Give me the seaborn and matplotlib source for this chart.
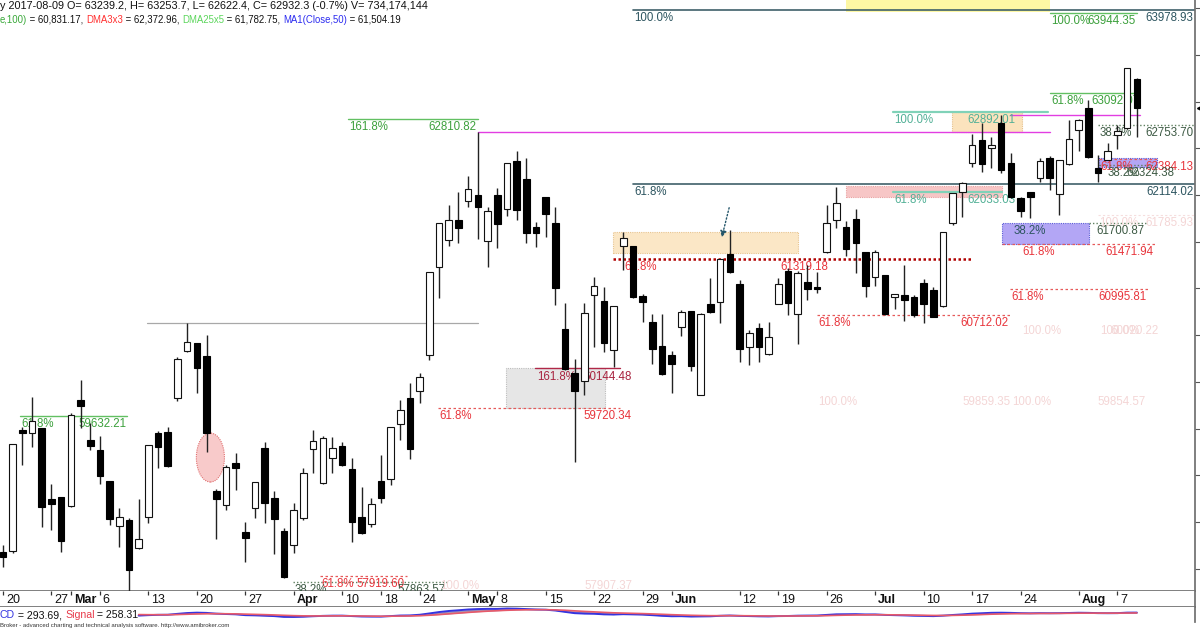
import matplotlib
matplotlib.use("Agg")
import matplotlib.pyplot as plt
from matplotlib.patches import Rectangle, Ellipse
import numpy as np
import pandas as pd
import seaborn as sns

sns.set_theme(style="white")
plt.rcParams["font.family"] = ["Liberation Sans", "DejaVu Sans"]

# daily OHLC, 20 Feb .. 9 Aug 2017
opens = [58180, 58191, 59485, 59453, 59507, 58747, 58769, 58672, 59806, 59378,
         59271, 58940, 58458, 58522, 58223, 58555, 59453, 59464, 59828, 60331,
         60416, 60277, 58833, 58683, 59132, 58394, 58651, 59293, 58758, 58405,
         58255, 58544, 59282, 58918, 59186, 59314, 59068, 58555, 58480, 58940,
         58961, 59550, 59828, 59903, 60288, 61230, 61518, 61732, 61936, 62000,
         61508, 62000, 61850, 62364, 62171, 61658, 61979, 61700, 60566, 60095,
         60010, 60930, 60866, 60341, 61454, 61454, 60919, 60641, 60384, 60288,
         60588, 60759, 59860, 60834, 60855, 61369, 61048, 60374, 60577, 60299,
         60834, 61187, 60727, 61069, 61016, 61390, 61732, 61658, 61743, 61390,
         61123, 61144, 60909, 60930, 60909, 61058, 60983, 60812, 61700, 62032,
         62342, 62589, 62503, 62770, 62342, 61968, 62032, 62182, 62396, 62011,
         62332, 62696, 62931, 62289, 62375, 62642, 62717, 63239.2]
highs = [58255, 59336, 59518, 59839, 59507, 58908, 58769, 59667, 60020, 59560,
         59421, 58940, 58651, 58544, 58747, 59325, 59475, 59518, 60267, 60630,
         60416, 60502, 58855, 59111, 59239, 58501, 58929, 59357, 58833, 58437,
         58704, 59079, 59485, 59421, 59411, 59357, 59186, 58876, 58758, 59218,
         59518, 59806, 59988, 60095, 61176, 61700, 61893, 62032, 62203, 62674,
         61872, 62075, 62342, 62471, 62396, 61711, 61979, 61872, 60844, 60245,
         60844, 61123, 61016, 60812, 61604, 61454, 60940, 60727, 60727, 60331,
         60769, 60759, 60737, 61112, 61315, 61625, 61090, 60555, 60630, 60641,
         61112, 61219, 61187, 61251, 61176, 61893, 62086, 61722, 61850, 61390,
         61412, 61144, 60941, 61251, 60930, 61101, 61016, 61604, 62021, 62139,
         62653, 62770, 62621, 62856, 62449, 61979, 62035, 62396, 62417, 62375,
         62803, 62813, 63017, 62428, 62556, 62749, 63359, 63253.7]
lows = [58020, 58169, 59111, 59304, 58448, 58415, 58180, 58660, 59507, 59271,
        58908, 58469, 58234, 57760, 58210, 58490, 59079, 59090, 59796, 60320,
        59881, 59250, 58319, 58629, 58843, 58073, 58544, 58490, 58159, 57905,
        58169, 58522, 59025, 58910, 59025, 59100, 58287, 58375, 58448, 58704,
        58897, 59378, 59175, 59774, 60234, 60898, 61454, 61486, 61872, 61529,
        61230, 61433, 61775, 61732, 61486, 61444, 61551, 60823, 60130, 59143,
        59860, 60374, 60320, 60160, 61197, 60900, 60641, 60192, 60074, 59881,
        60491, 60117, 59860, 60740, 60630, 61170, 60213, 60181, 60213, 60290,
        60830, 60716, 60406, 60876, 60951, 61380, 61647, 61347, 61165, 60909,
        61026, 60720, 60780, 60652, 60695, 60630, 60690, 60800, 61679, 61765,
        62300, 62246, 62289, 62235, 61970, 61765, 61754, 62139, 62054, 61786,
        62325, 62471, 62400, 62139, 62370, 62492, 62710, 62622.4]
closes = [58127, 59336, 59453, 59582, 58662, 58694, 58298, 59646, 59742, 59314,
          58993, 58533, 58555, 57987, 58319, 59325, 59304, 59100, 60245, 60427,
          60149, 59453, 58747, 59090, 59079, 58330, 58929, 58704, 58533, 57913,
          58629, 59025, 59368, 59400, 59293, 59111, 58501, 58383, 58694, 58758,
          59518, 59699, 59282, 60053, 61176, 61700, 61732, 61647, 62064, 61872,
          61829, 61690, 62342, 61839, 61593, 61593, 61797, 61005, 60138, 59903,
          60737, 61026, 60416, 60812, 61540, 60909, 60855, 60352, 60085, 60192,
          60748, 60170, 60727, 60748, 61315, 61176, 60352, 60523, 60374, 60481,
          61048, 60844, 61165, 60994, 60994, 61700, 61914, 61422, 61486, 61026,
          61390, 60727, 60941, 60877, 60716, 60834, 60695, 61604, 62021, 62128,
          62535, 62332, 62535, 62268, 61979, 61829, 61979, 62364, 62182, 62375,
          62599, 62803, 62407, 62235, 62471, 62685, 63359, 62932.3]

# date axis: bar number of each labelled day
tick_bars = [0, 5, 7, 10, 15, 20, 25, 30, 35, 39, 43, 48, 51, 56, 61, 66, 69,
             76, 80, 85, 90, 95, 100, 105, 111, 115]
tick_labels = ["20", "27", "Mar", "6", "13", "20", "27", "Apr", "10", "18", "24",
               "May", "8", "15", "22", "29", "Jun", "12", "19", "26", "Jul", "10",
               "17", "24", "Aug", "7"]
months = {"Mar", "Apr", "May", "Jun", "Jul", "Aug"}

# fibonacci / study levels: price, from bar, to bar, style, left text, left at, right text, right at
levels = [
    (63978.93, 65.0, 123.0, "slate", "100.0%", None, "63978.93", 123.0),
    (63944.35, 108.0, 117.0, "green", "100.0%", None, "63944.35", 117.0),
    (63092.07, 108.0, 117.0, "green", "61.8%", None, "63092.07", 117.4),
    (62892.01, 91.8, 107.8, "teal", "100.0%", None, "62892.01", 104.6),
    (62856.00, 103.9, 117.3, "magenta", None, None, None, None),
    (62810.82, 35.6, 49.0, "green", "161.8%", None, "62810.82", 49.0),
    (62753.70, 113.0, 123.0, "gdot", "38.2%", None, "62753.70", 123.0),
    (62674.00, 49.0, 108.0, "magenta", None, None, None, None),
    (62384.13, 113.1, 119.1, "rdash", "61.8%", None, "62384.13", 123.0),
    (62324.38, 113.1, 119.1, "gdot", "38.2%", 113.8, "62324.38", 121.0),
    (62114.02, 65.0, 123.0, "slate", "61.8%", None, "62114.02", 123.0),
    (62033.03, 91.8, 103.1, "teal", "61.8%", None, "62033.03", 104.6),
    (61785.93, 113.0, 123.0, "faint", "100.0%", None, "61785.93", 123.0),
    (61700.87, 112.1, 117.9, "gdot", None, None, "61700.87", 117.9),
    (61471.94, 103.1, 118.9, "rdash", "61.8%", 105.0, "61471.94", 118.9),
    (61319.18, 62.95, 100.0, "rdot", "61.8%", 64.0, "61319.18", 85.3),
    (60995.81, 103.9, 118.1, "rdash", "61.8%", None, "60995.81", 118.1),
    (60712.02, 84.0, 103.9, "rdash", "61.8%", None, "60712.02", 103.9),
    (60630.00, 14.86, 49.0, "gray", None, None, None, None),
    (60144.48, 54.9, 63.7, "crimson", "161.8%", 55.0, "60144.48", 65.0),
    (59720.34, 44.9, 63.7, "rdash", "61.8%", None, "59720.34", 65.0),
    (59632.21, 1.75, 12.8, "green", "61.8%", None, "59632.21", 12.9),
    (57919.60, 32.7, 41.7, "rdash", "61.8%", None, "57919.60", 41.6),
    (57863.57, 29.9, 45.8, "gdot", "38.2%", None, "57863.57", 45.8),
]
# almost invisible old labels: bar, price, text, align
faint_notes = [(105.2, 60630, "100.0%", "left"), (113.2, 60630, "100.0%", "left"),
               (119.2, 60630, "60020.22", "right"), (84.1, 59870, "100.0%", "left"),
               (104.0, 59870, "59859.35", "right"), (104.1, 59870, "100.0%", "left"),
               (117.9, 59870, "59854.57", "right"), (45.1, 57902, "100.0%", "left"),
               (65.0, 57902, "57907.37", "right")]
# zones: bar from, bar to, price low, price high, fill, edge
zones = [
    (87.0, 108.0, 63958, 64120, "#fdf7a4", "none"),
    (97.9, 105.2, 62674, 62888, "#fbe3bd", "#e6c08a"),
    (87.0, 103.1, 61979, 62096, "#f7c6c6", "#eaa0a0"),
    (62.95, 82.0, 61379, 61604, "#fbe7c6", "#e8c48e"),
    (103.1, 112.1, 61471.94, 61700.87, "#b3a6f5", "#5a5ad8"),
    (113.1, 119.1, 62300, 62396, "#b3a6f5", "#5a5ad8"),
    (51.9, 62.1, 59720.34, 60144.48, "#e6e6e6", "#bdbdbd"),
]

styles = {
    "slate": dict(color="#3f6069", ls="-", lw=1.2),
    "green": dict(color="#62c062", ls="-", lw=1.0),
    "teal": dict(color="#80d2b8", ls="-", lw=1.6),
    "magenta": dict(color="#e23ee2", ls="-", lw=1.0),
    "gdot": dict(color="#5f8060", ls=(0, (1, 1.5)), lw=1.0),
    "rdash": dict(color="#e65a5a", ls=(0, (2, 2)), lw=0.9),
    "rdot": dict(color="#b00000", ls=(0, (1, 1)), lw=1.8),
    "gray": dict(color="#a8a8a8", ls="-", lw=0.9),
    "crimson": dict(color="#b02848", ls="-", lw=1.0),
    "faint": dict(color="#f6dede", ls=(0, (2, 2)), lw=0.8),
}
text_colors = {"slate": "#2d5560", "green": "#3ca03c", "teal": "#52b096",
               "gdot": "#3d5a44", "rdash": "#e8353c", "rdot": "#e8353c",
               "crimson": "#a8233f", "faint": "#f4d6d6"}

W, H = 1200, 630
fig = plt.figure(figsize=(12, 6.3), dpi=100)


def px_axes(x0, y0, x1, y1):
    return fig.add_axes([x0 / W, 1 - y1 / H, (x1 - x0) / W, (y1 - y0) / H])


ax = px_axes(0, 0, 1195, 591)
ax_d = px_axes(0, 591, 1195, 607)
ax_m = px_axes(0, 607, 1195, 622)

for a in (ax, ax_d, ax_m):
    a.set_xlim(-0.31, 123.0)
    a.set_facecolor("white")
    for side in ("left", "top"):
        a.spines[side].set_visible(False)
    a.spines["right"].set_color("#707070")
    a.spines["bottom"].set_color("#707070")
    a.set_xticks([])

ax.set_ylim(57763, 64087)
ax.yaxis.tick_right()
ax.set_yticks(np.arange(58000, 64001, 500))
ax.tick_params(axis="y", direction="out", length=4, width=0.8, color="#555",
               labelright=False, labelleft=False)

# zones and the ellipse
for b0, b1, p0, p1, face, edge in zones:
    ax.add_patch(Rectangle((b0, p0), b1 - b0, p1 - p0, facecolor=face,
                           edgecolor=edge, ls=(0, (1, 1)), lw=0.8, zorder=1))
ax.add_patch(Ellipse((21.4, 59191), 2.9, 524, facecolor="#f8caca",
                     edgecolor="#e07070", ls=(0, (1, 1)), lw=0.8, zorder=1))

# levels and their labels
lab_fs = 8.3
for price, b0, b1, st, left, left_at, right, right_at in levels:
    ax.plot([b0, b1], [price, price], zorder=2, **styles[st])
    tc = text_colors.get(st, "#333")
    if left:
        ax.annotate(left, (left_at if left_at is not None else b0, price),
                    xytext=(1, -1.5), textcoords="offset points", ha="left",
                    va="top", fontsize=lab_fs, color=tc, zorder=3)
    if right:
        ax.annotate(right, (right_at, price), xytext=(-1, -1.5),
                    textcoords="offset points", ha="right", va="top",
                    fontsize=lab_fs, color=tc, zorder=3)
ax.annotate("38.2%", (104.1, 61700.87), xytext=(1, -1.5), textcoords="offset points",
            ha="left", va="top", fontsize=lab_fs, color=text_colors["slate"], zorder=3)
for b, p, s, ha in faint_notes:
    ax.annotate(s, (b, p), xytext=(0, -1.5), textcoords="offset points", ha=ha,
                va="top", fontsize=lab_fs, color=text_colors["faint"], zorder=3)

# dotted arrow
ax.annotate("", xy=(74.1, 61519), xytext=(75.0, 61893),
            arrowprops=dict(arrowstyle="-|>", color="#24566a", ls=(0, (1, 1.5)),
                            lw=1.0, mutation_scale=9), zorder=3)

# candles
x = np.arange(len(closes))
o = np.array(opens, dtype=float)
c = np.array(closes, dtype=float)
hi = np.array(highs, dtype=float)
lo = np.array(lows, dtype=float)
up = c >= o
body_lo = np.minimum(o, c)
body_h = np.maximum(np.abs(c - o), 12)
ax.vlines(x, lo, hi, color="#222", lw=1.0, zorder=5)
ax.bar(x[up], body_h[up], bottom=body_lo[up], width=0.68, color="white",
       edgecolor="#111", linewidth=0.8, zorder=6)
ax.bar(x[~up], body_h[~up], bottom=body_lo[~up], width=0.68, color="black",
       edgecolor="black", linewidth=0.8, zorder=6)

# last price marker on the axis
ax.plot([1.004], [closes[-1]], marker="<", ms=5, color="black",
        transform=ax.get_yaxis_transform(), clip_on=False, zorder=10)

# date band
ax_d.set_ylim(0, 1)
ax_d.set_yticks([])
ax_d.vlines(tick_bars, 0.72, 1.0, color="#333", lw=0.9)
for b, lab in zip(tick_bars, tick_labels):
    ax_d.text(b + 0.3, 0.45, lab, fontsize=9, ha="left", va="center",
              fontweight="bold" if lab in months else "normal", color="#111")

# MACD pane, from the closes
close_s = pd.Series(c)
macd = close_s.ewm(span=12, adjust=False).mean() - close_s.ewm(span=26, adjust=False).mean()
signal = macd.ewm(span=9, adjust=False).mean()
start = 14
ax_m.fill_between(x[start:], macd[start:], signal[start:], color="#4a2a6a", alpha=0.5, lw=0)
sns.lineplot(x=x[start:], y=macd[start:], ax=ax_m, color="#3434e0", lw=1.4)
sns.lineplot(x=x[start:], y=signal[start:], ax=ax_m, color="#e85a6a", lw=1.2)
lo_m, hi_m = min(macd[start:].min(), signal[start:].min()), max(macd[start:].max(), signal[start:].max())
pad = (hi_m - lo_m) * 0.6
ax_m.set_ylim(lo_m - pad, hi_m + pad * 0.3)
ax_m.set_yticks([])
ax_m.set_ylabel("")
ax_m.spines["bottom"].set_visible(False)


def colored_line(target, x_px, y_px, parts, size):
    prev = None
    for text, color in parts:
        if prev is None:
            prev = target.annotate(text, xy=(x_px, y_px), xycoords="figure pixels",
                                   ha="left", va="bottom", fontsize=size, color=color,
                                   annotation_clip=False, zorder=20)
        else:
            prev = target.annotate(text, xy=(1, 0), xycoords=prev, ha="left",
                                   va="bottom", fontsize=size, color=color,
                                   annotation_clip=False, zorder=20)


colored_line(ax, 0, 619, [("y 2017-08-09 O= 63239.2, H= 63253.7, L= 62622.4, "
                           "C= 62932.3 (-0.7%) V= 734,174,144", "#111")], 7.8)
colored_line(ax, 0, 605, [("e,100)", "#38a838"), (" = 60,831.17, ", "#111"),
                          ("DMA3x3", "#ff3030"), (" = 62,372.96, ", "#111"),
                          ("DMA25x5", "#5cd65c"), (" = 61,782.75, ", "#111"),
                          ("MA1(Close,50)", "#2c2cf0"), (" = 61,504.19", "#111")], 6.9)
colored_line(ax_m, 0, 10, [("CD", "#3434e0"), (" = 293.69, ", "#111"),
                           ("Signal", "#e83a4a"), (" = 258.31", "#111")], 7.6)
fig.text(0, 1 - 626 / H, "Broker - advanced charting and technical analysis software. "
         "http://www.amibroker.com", fontsize=4.3, color="#333", va="center")

fig.savefig("out.png", dpi=100, facecolor="white")
